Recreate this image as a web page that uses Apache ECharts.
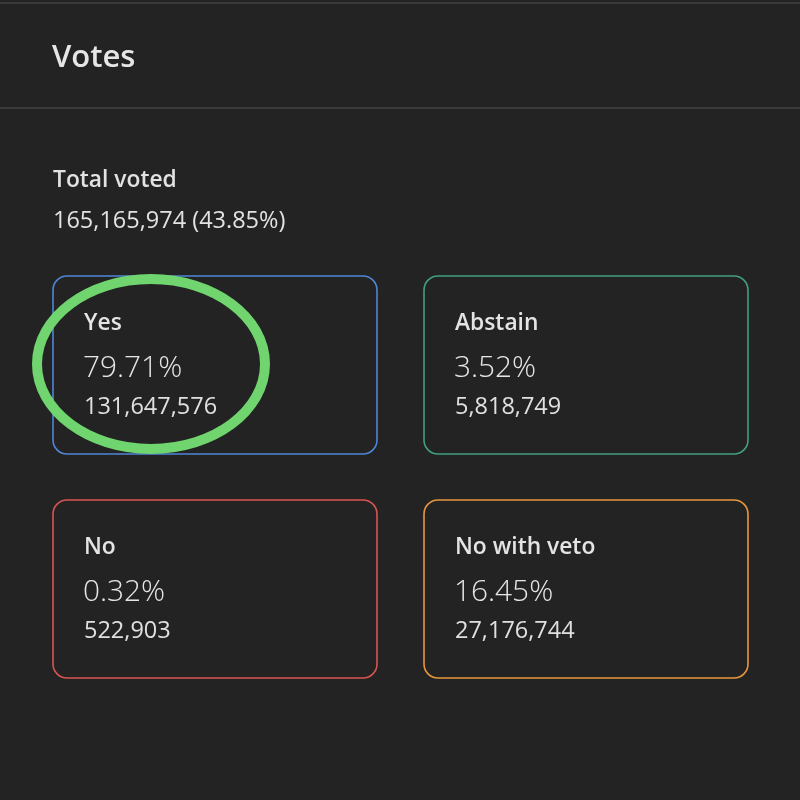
<!DOCTYPE html>
<html><head><meta charset="utf-8">
<script src="https://cdn.jsdelivr.net/npm/echarts@6/dist/echarts.min.js"></script>
<style>html,body{margin:0;padding:0;background:#232323}#c{width:800px;height:800px}</style>
</head><body><div id="c"></div>
<script>
const title = 'Votes';
const totalLabel = 'Total voted';
const totalValue = '165,165,974 (43.85%)';
const categories = ['Yes', 'Abstain', 'No', 'No with veto'];
const percents = ['79.71%', '3.52%', '0.32%', '16.45%'];
const counts = ['131,647,576', '5,818,749', '522,903', '27,176,744'];
const cols = [0, 1, 0, 1];
const rows = [0, 0, 1, 1];
const colors = ['#4f86d6', '#41a07e', '#d95451', '#e9973f'];

const FONT = '"Open Sans", Lato, sans-serif';
const chart = echarts.init(document.getElementById('c'));
const data = categories.map((c, i) => [cols[i], rows[i], i]);

chart.setOption({
  backgroundColor: '#232323',
  animation: false,
  grid: { left: 29.5, top: 253, width: 742, height: 448 },
  xAxis: { type: 'category', data: ['0', '1'], show: false },
  yAxis: { type: 'category', data: ['0', '1'], inverse: true, show: false },
  graphic: [
    { type: 'rect', shape: { x: 0, y: 2, width: 800, height: 2 }, style: { fill: '#3a3a3a' } },
    { type: 'rect', shape: { x: 0, y: 107, width: 800, height: 2 }, style: { fill: '#3a3a3a' } },
    { type: 'text', x: 52, y: 58, style: { text: title, fill: '#e6e6e6', font: '600 31px ' + FONT, verticalAlign: 'middle' } },
    { type: 'text', x: 53, y: 181, style: { text: totalLabel, fill: '#e2e2e2', font: '600 22.8px ' + FONT, verticalAlign: 'middle' } },
    { type: 'text', x: 53, y: 221, style: { text: totalValue, fill: '#e2e2e2', font: '400 23.5px ' + FONT, verticalAlign: 'middle' } },
    { type: 'ellipse', z: 100, shape: { cx: 151, cy: 364, rx: 114, ry: 85 }, style: { fill: 'none', stroke: '#70d46f', lineWidth: 10 } }
  ],
  series: [{
    type: 'custom',
    data: data,
    renderItem: function (params, api) {
      const i = api.value(2);
      const c = api.coord([api.value(0), api.value(1)]);
      const w = 324, h = 178;
      const x0 = c[0] - w / 2, y0 = c[1] - h / 2;
      return {
        type: 'group',
        children: [
          { type: 'rect', shape: { x: x0, y: y0, width: w, height: h, r: 14 }, style: { fill: 'none', stroke: colors[i], lineWidth: 1.6 } },
          { type: 'text', style: { x: x0 + 31, y: y0 + 48, text: categories[i], fill: '#e4e4e4', font: '600 22.8px ' + FONT, verticalAlign: 'middle' } },
          { type: 'text', style: { x: x0 + 30, y: y0 + 93, text: percents[i], fill: '#e6e6e6', font: '300 29.8px ' + FONT, verticalAlign: 'middle' } },
          { type: 'text', style: { x: x0 + 31, y: y0 + 131, text: counts[i], fill: '#e0e0e0', font: '400 23.5px ' + FONT, verticalAlign: 'middle' } }
        ]
      };
    }
  }]
});
</script></body></html>
